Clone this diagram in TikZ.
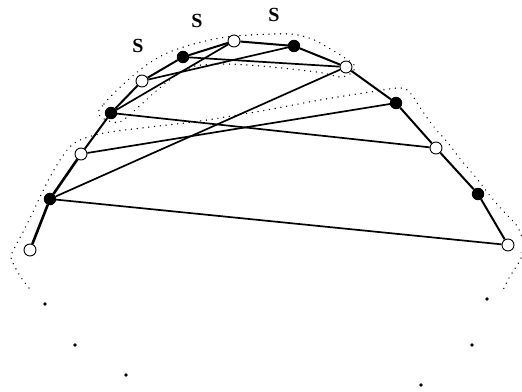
\documentclass[tikz,border=0pt]{standalone}
\usepackage{fontspec}
\setmainfont{Liberation Serif}
\usetikzlibrary{positioning}

\begin{document}
\begin{tikzpicture}[
    x=1pt, y=-1pt,
    vopen/.style={circle, draw, fill=white, line width=0.9pt, minimum size=12pt, inner sep=0pt},
    vfull/.style={circle, draw, fill=black, line width=0.9pt, minimum size=11.5pt, inner sep=0pt},
    chain/.style={line width=2pt},
    chord/.style={line width=1.7pt},
    band/.style={line width=1.5pt, dash pattern=on 0.01pt off 5.8pt, line cap=round},
    slabel/.style={font=\fontsize{20}{22}\selectfont\bfseries}
  ]
    \useasboundingbox (0,0) rectangle (522,391);

    % dotted bands
    \draw[band] plot[smooth, tension=0.55] coordinates {(29,288) (20,276) (13,263) (11,256) (16,245) (23,232) (32,214) (40,197) (50,177) (62,157) (73,144) (88,137) (110,132) (150,127) (200,121) (261,111) (320,100) (370,92) (401,88) (411,94) (421,109) (434,127) (448,143) (461,160) (478,180) (491,197) (505,213) (517,226) (523,242) (521,258) (514,270) (509,278) (503,290)};
    \draw[band] plot[smooth cycle, tension=0.5] coordinates {(98,113) (104,104) (113,94) (128,80) (145,66) (165,54) (190,45) (220,38) (250,35) (290,34) (312,39) (327,47) (342,56) (355,66) (350,74) (340,77) (323,73) (300,70) (261,66) (225,64) (195,66) (175,76) (155,92) (135,110) (120,122) (106,120)};

    % continuation dots
    \fill (45,304) circle (1.8pt);
    \fill (75,345) circle (1.8pt);
    \fill (126,375) circle (1.8pt);
    \fill (487,299) circle (1.8pt);
    \fill (472,345) circle (1.8pt);
    \fill (421,385) circle (1.8pt);

    % vertices
    \node[vopen] (a) at (30,250) {};
    \node[vfull] (b) at (50,199) {};
    \node[vopen] (c) at (81,154) {};
    \node[vfull] (d) at (111,113) {};
    \node[vopen] (e) at (142,81) {};
    \node[vfull] (f) at (183,57) {};
    \node[vopen] (g) at (234,41) {};
    \node[vfull] (h) at (294,46) {};
    \node[vopen] (i) at (346,67) {};
    \node[vfull] (j) at (396,103) {};
    \node[vopen] (k) at (436,148) {};
    \node[vfull] (l) at (478,194) {};
    \node[vopen] (m) at (508,245) {};

    % the path
    \draw[chain, line width=2.6pt] (a) -- (b) -- (c);
    \draw[chain] (c) -- (d) -- (e) -- (f) -- (g) -- (h) -- (i) -- (j) -- (k) -- (l) -- (m);

    % chords
    \draw[chord] (e) -- (h);
    \draw[chord] (f) -- (i);
    \draw[chord] (d) -- (g);
    \draw[chord] (d) -- (k);
    \draw[chord] (c) -- (j);
    \draw[chord] (b) -- (i);
    \draw[chord] (b) -- (m);

    % labels
    \node[slabel] (s1) at (138,46) {S};
    \node[slabel] (s2) at (197,21) {S};
    \node[slabel] (s3) at (274,15) {S};
  \end{tikzpicture}
\end{document}
